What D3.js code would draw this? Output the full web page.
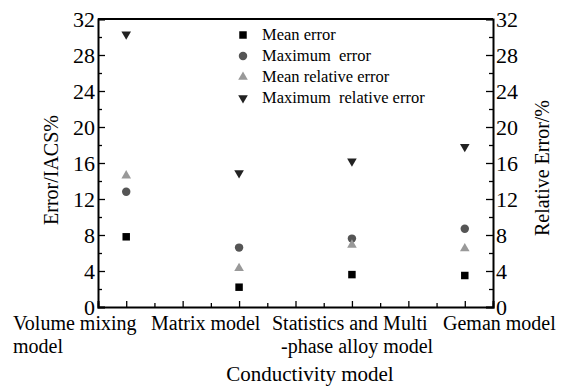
<!DOCTYPE html>
<html>
<head>
<meta charset="utf-8">
<script src="https://cdn.jsdelivr.net/npm/d3@7"></script>
<style>
  body { margin: 0; background: #fff; }
  svg text { font-family: "Liberation Serif", "Times New Roman", Times, "DejaVu Serif", serif !important; fill: #000; }
</style>
</head>
<body>
<script>
// models on the x axis, each label split in lines
var models = ["Volume mixing model", "Matrix model", "Statistics and Multi-phase alloy model", "Geman model"];
var modelLines = [["Volume mixing", "model"], ["Matrix model"], ["Statistics and Multi", "-phase alloy model"], ["Geman model"]];

// values
var meanError = [7.8, 2.2, 3.6, 3.5];
var maxError = [12.8, 6.6, 7.6, 8.7];
var meanRelError = [14.6, 4.3, 6.9, 6.5];
var maxRelError = [30.3, 14.9, 16.2, 17.8];

var yTicks = [0, 4, 8, 12, 16, 20, 24, 28, 32];

var series = [
  {name: "Mean error", values: meanError, shape: "square", color: "#000"},
  {name: "Maximum  error", values: maxError, shape: "circle", color: "#555"},
  {name: "Mean relative error", values: meanRelError, shape: "triangle", color: "#999"},
  {name: "Maximum  relative error", values: maxRelError, shape: "down", color: "#222"}
];

var width = 569, height = 388;
var margin = {top: 19, right: 76, bottom: 81, left: 98};

var svg = d3.select("body").append("svg")
    .attr("width", width)
    .attr("height", height);

var x = d3.scaleLinear()
    .domain([-0.25, 3.25])
    .range([margin.left, width - margin.right]);

var y = d3.scaleLinear()
    .domain([0, 32])
    .range([height - margin.bottom, margin.top]);

//symbol generator for each shape
function symbolPath(shape){
    if (shape == "square") return d3.symbol(d3.symbolSquare, 56)();
    if (shape == "circle") return d3.symbol(d3.symbolCircle, 56)();
    return d3.symbol(d3.symbolTriangle, 40)();
}

//points
series.forEach(function(s){
    svg.selectAll(".pt-" + s.shape)
        .data(s.values)
        .enter()
        .append("path")
        .attr("d", symbolPath(s.shape))
        .attr("transform", function(d, i){
            var t = "translate(" + x(i) + "," + y(d) + ")";
            return s.shape == "down" ? t + " rotate(180)" : t;
        })
        .attr("fill", s.color);
});

//axes, ticks pointing inside
var left = d3.axisLeft(y).tickValues(d3.range(0, 33, 2)).tickSize(-7)
    .tickFormat(function(d){ return yTicks.indexOf(d) >= 0 ? d : ""; });
var right = d3.axisRight(y).tickValues(d3.range(0, 33, 2)).tickSize(-7)
    .tickFormat(function(d){ return yTicks.indexOf(d) >= 0 ? d : ""; });
var bottom = d3.axisBottom(x).tickValues(d3.range(-0.25, 3.26, 0.25)).tickSize(-6).tickFormat("");

var gl = svg.append("g").attr("transform", "translate(" + margin.left + ",0)").call(left);
var gr = svg.append("g").attr("transform", "translate(" + (width - margin.right) + ",0)").call(right);
var gb = svg.append("g").attr("transform", "translate(0," + (height - margin.bottom) + ")").call(bottom);

//minor ticks shorter
gl.selectAll(".tick").filter(function(d){ return yTicks.indexOf(d) < 0; }).select("line").attr("x2", 4);
gr.selectAll(".tick").filter(function(d){ return yTicks.indexOf(d) < 0; }).select("line").attr("x2", -4);
gb.selectAll(".tick").filter(function(d){ return Math.abs(d * 2 - Math.round(d * 2)) > 0.01; }).select("line").attr("y2", -4);

[gl, gr, gb].forEach(function(g){
    g.attr("font-family", null);
    g.select(".domain").attr("stroke-width", 2);
    g.selectAll(".tick line").attr("stroke-width", 1.3);
    g.selectAll(".tick text").style("font-size", "22px");
});
gl.selectAll(".tick text").attr("x", -3);
gr.selectAll(".tick text").attr("x", 3);

//top frame line
svg.append("line")
    .attr("x1", margin.left).attr("x2", width - margin.right)
    .attr("y1", margin.top).attr("y2", margin.top)
    .attr("stroke", "#000").attr("stroke-width", 2);

//category labels
var labelX = [13, 151, 272, 443];
modelLines.forEach(function(lines, i){
    lines.forEach(function(line, j){
        svg.append("text")
            .attr("x", labelX[i] + (j == 1 && i == 2 ? 9 : 0))
            .attr("y", 330 + j * 23)
            .style("font-size", "20px")
            .text(line);
    });
});

//axis titles
svg.append("text")
    .attr("x", 310).attr("y", 381)
    .attr("text-anchor", "middle")
    .style("font-size", "21px")
    .text("Conductivity model");

svg.append("text")
    .attr("transform", "translate(58,170) rotate(-90)")
    .attr("text-anchor", "middle")
    .style("font-size", "20px")
    .text("Error/IACS%");

svg.append("text")
    .attr("transform", "translate(549,168) rotate(-90)")
    .attr("text-anchor", "middle")
    .style("font-size", "20px")
    .text("Relative Error/%");

//legend
var legend = svg.selectAll(".legend")
    .data(series)
    .enter()
    .append("g")
    .attr("transform", function(d, i){ return "translate(243," + (35 + i * 21) + ")"; });

legend.append("path")
    .attr("d", function(d){ return symbolPath(d.shape); })
    .attr("transform", function(d){ return d.shape == "down" ? "rotate(180)" : ""; })
    .attr("fill", function(d){ return d.color; });

legend.append("text")
    .attr("x", 19)
    .attr("y", 5)
    .style("font-size", "16.5px")
    .style("white-space", "pre")
    .text(function(d){ return d.name; });
</script>
</body>
</html>
